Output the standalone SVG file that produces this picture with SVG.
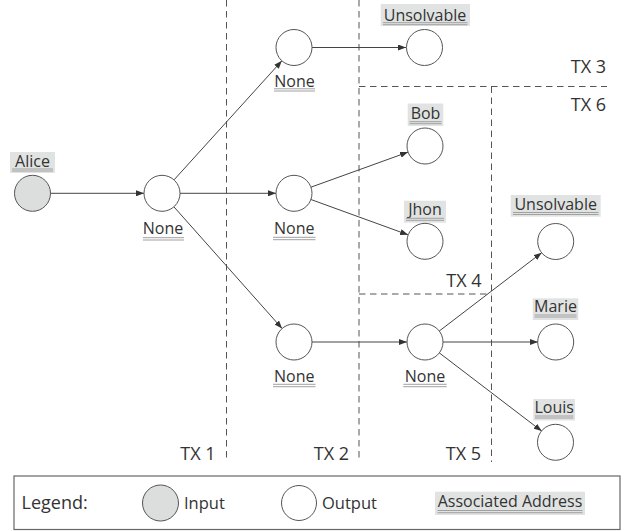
<svg xmlns="http://www.w3.org/2000/svg" width="629" height="531" viewBox="0 0 629 531">
<defs>
<style>
.bg{fill:#ffffff}
.node{fill:#ffffff;stroke:#555555;stroke-width:1}
.input{fill:#dcdedd;stroke:#555555;stroke-width:1}
.edge{fill:none;stroke:#444444;stroke-width:1}
.dash{fill:none;stroke:#555555;stroke-width:1;stroke-dasharray:6.5 4.5}
.lbl{font-family:"Open Sans","Noto Sans",sans-serif;font-size:16px;fill:#333333;text-anchor:middle}
.tx{font-family:"Open Sans","Noto Sans",sans-serif;font-size:18px;fill:#333333;text-anchor:end}
.addr{fill:#e1e3e2}
.ul{stroke:#a0a0a0;stroke-width:1;fill:none}
.box{fill:none;stroke:#666666;stroke-width:1.2}
</style>
<marker id="arrow" markerUnits="userSpaceOnUse" markerWidth="8" markerHeight="6" refX="8" refY="3" orient="auto">
<path d="M0,0 L8,3 L0,6 z" fill="#333333"/>
</marker>
</defs>
<rect class="bg" x="0" y="0" width="629" height="531"/>

<g id="tx-boundaries">
<line class="dash" x1="226.5" y1="0" x2="226.5" y2="462"/>
<line class="dash" x1="359" y1="0" x2="359" y2="462"/>
<line class="dash" x1="359" y1="86.5" x2="607" y2="86.5"/>
<line class="dash" x1="491.5" y1="86.5" x2="491.5" y2="462"/>
<line class="dash" x1="359" y1="294" x2="491.5" y2="294"/>
<text class="tx" x="606" y="73">TX 3</text>
<text class="tx" x="606" y="111">TX 6</text>
<text class="tx" x="481.5" y="287">TX 4</text>
<text class="tx" x="215.5" y="460">TX 1</text>
<text class="tx" x="349" y="460">TX 2</text>
<text class="tx" x="481" y="460">TX 5</text>
</g>

<g id="connectors">
<line class="edge" x1="50" y1="193.3" x2="144" y2="193.3" marker-end="url(#arrow)"/>
<line class="edge" x1="174.1" y1="179.8" x2="281.9" y2="60.8" marker-end="url(#arrow)"/>
<line class="edge" x1="180" y1="193.3" x2="276" y2="193.3" marker-end="url(#arrow)"/>
<line class="edge" x1="173.9" y1="206.8" x2="282.1" y2="328.5" marker-end="url(#arrow)"/>
<line class="edge" x1="312" y1="47.5" x2="406" y2="47.5" marker-end="url(#arrow)"/>
<line class="edge" x1="310.9" y1="187.2" x2="408.1" y2="152.1" marker-end="url(#arrow)"/>
<line class="edge" x1="310.9" y1="199.5" x2="408.1" y2="234.8" marker-end="url(#arrow)"/>
<line class="edge" x1="312" y1="342" x2="407" y2="342" marker-end="url(#arrow)"/>
<line class="edge" x1="439.3" y1="331" x2="541.7" y2="252.7" marker-end="url(#arrow)"/>
<line class="edge" x1="443" y1="342" x2="538" y2="342" marker-end="url(#arrow)"/>
<line class="edge" x1="439.3" y1="352.9" x2="541.7" y2="431.1" marker-end="url(#arrow)"/>
</g>

<g id="alice">
<rect class="addr" x="10" y="152" width="45" height="21"/>
<text class="lbl" x="32.5" y="166.5">Alice</text>
<line class="ul" x1="12" y1="169" x2="53" y2="169"/>
<line class="ul" x1="12" y1="171" x2="53" y2="171"/>
<circle class="input" cx="32.5" cy="193.3" r="18"/>
</g>

<g id="tx1-out">
<circle class="node" cx="162" cy="193.3" r="18"/>
<text class="lbl" x="163" y="234.3">None</text>
<line class="ul" x1="143" y1="237.7" x2="184" y2="237.7"/>
<line class="ul" x1="143" y1="240" x2="184" y2="240"/>
</g>

<g id="tx2-out-top">
<circle class="node" cx="294" cy="47.5" r="18"/>
<text class="lbl" x="294.5" y="86.5">None</text>
<line class="ul" x1="274" y1="88.8" x2="315" y2="88.8"/>
<line class="ul" x1="274" y1="91" x2="315" y2="91"/>
</g>

<g id="tx2-out-mid">
<circle class="node" cx="294" cy="193.3" r="18"/>
<text class="lbl" x="294.2" y="234">None</text>
<line class="ul" x1="273" y1="237.3" x2="315.5" y2="237.3"/>
<line class="ul" x1="273" y1="239.7" x2="315.5" y2="239.7"/>
</g>

<g id="tx2-out-bottom">
<circle class="node" cx="294" cy="342" r="18"/>
<text class="lbl" x="294.2" y="381.7">None</text>
<line class="ul" x1="273" y1="384.3" x2="315.5" y2="384.3"/>
<line class="ul" x1="273" y1="386.7" x2="315.5" y2="386.7"/>
</g>

<g id="unsolvable-top">
<rect class="addr" x="380.7" y="4" width="89.3" height="22"/>
<text class="lbl" x="425" y="20.5">Unsolvable</text>
<line class="ul" x1="383" y1="22.7" x2="467.5" y2="22.7"/>
<line class="ul" x1="383" y1="24.7" x2="467.5" y2="24.7"/>
<circle class="node" cx="424.5" cy="47.5" r="18"/>
</g>

<g id="bob">
<rect class="addr" x="407.7" y="103.5" width="35.6" height="22.5"/>
<text class="lbl" x="425.5" y="119">Bob</text>
<line class="ul" x1="409.5" y1="121.7" x2="441.5" y2="121.7"/>
<line class="ul" x1="409.5" y1="123.7" x2="441.5" y2="123.7"/>
<circle class="node" cx="425" cy="146" r="18"/>
</g>

<g id="jhon">
<rect class="addr" x="404" y="200.7" width="42" height="22"/>
<text class="lbl" x="425" y="215">Jhon</text>
<line class="ul" x1="406" y1="218.3" x2="444" y2="218.3"/>
<line class="ul" x1="406" y1="220.3" x2="444" y2="220.3"/>
<circle class="node" cx="425" cy="241.3" r="18"/>
</g>

<g id="tx5-out">
<circle class="node" cx="425" cy="342" r="18"/>
<text class="lbl" x="425" y="381.7">None</text>
<line class="ul" x1="403.3" y1="384.3" x2="446.7" y2="384.3"/>
<line class="ul" x1="403.3" y1="386.7" x2="446.7" y2="386.7"/>
</g>

<g id="unsolvable-right">
<rect class="addr" x="510.7" y="195" width="90" height="21.7"/>
<text class="lbl" x="555.7" y="209.5">Unsolvable</text>
<line class="ul" x1="513" y1="212.5" x2="598.5" y2="212.5"/>
<line class="ul" x1="513" y1="214.5" x2="598.5" y2="214.5"/>
<circle class="node" cx="555.7" cy="241.5" r="18"/>
</g>

<g id="marie">
<rect class="addr" x="532.7" y="298.3" width="45.6" height="21.7"/>
<text class="lbl" x="555.5" y="312">Marie</text>
<line class="ul" x1="534.5" y1="315" x2="576.5" y2="315"/>
<line class="ul" x1="534.5" y1="317" x2="576.5" y2="317"/>
<circle class="node" cx="555.7" cy="342" r="18"/>
</g>

<g id="louis">
<rect class="addr" x="533.3" y="399" width="41.7" height="21.5"/>
<text class="lbl" x="554.2" y="413.3">Louis</text>
<line class="ul" x1="535" y1="416" x2="573.3" y2="416"/>
<line class="ul" x1="535" y1="418" x2="573.3" y2="418"/>
<circle class="node" cx="555.5" cy="442.3" r="18"/>
</g>

<g id="legend">
<rect class="box" x="14" y="476" width="606" height="53.5"/>
<text x="21.5" y="509" style="font-family:'Open Sans','Noto Sans',sans-serif;font-size:18px;fill:#333333">Legend:</text>
<circle class="input" cx="160.5" cy="503" r="18"/>
<text x="184" y="509" style="font-family:'Open Sans','Noto Sans',sans-serif;font-size:16.5px;fill:#333333">Input</text>
<circle class="node" cx="299" cy="503" r="17.5"/>
<text x="322" y="509" style="font-family:'Open Sans','Noto Sans',sans-serif;font-size:16.5px;fill:#333333">Output</text>
<rect class="addr" x="435" y="491.7" width="150" height="23.3"/>
<text class="lbl" x="510" y="507">Associated Address</text>
<line class="ul" x1="437.5" y1="510.5" x2="582.5" y2="510.5"/>
<line class="ul" x1="437.5" y1="512.7" x2="582.5" y2="512.7"/>
</g>
</svg>
